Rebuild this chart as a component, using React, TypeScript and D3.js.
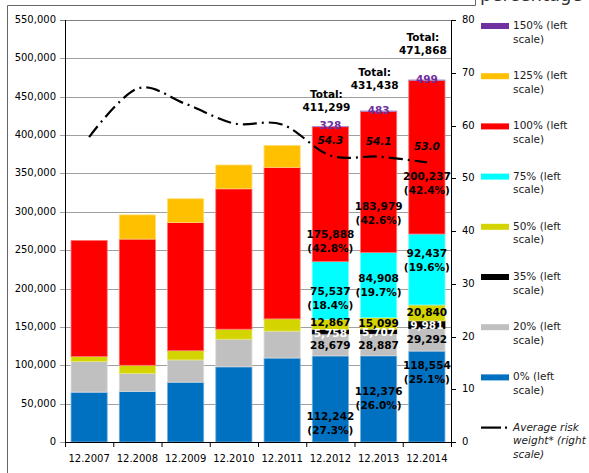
import React from "react";
import * as d3 from "d3";

const categories = ["12.2007", "12.2008", "12.2009", "12.2010", "12.2011", "12.2012", "12.2013", "12.2014"];
const s0 = [65000, 66000, 78000, 98000, 109500, 112242, 112376, 118554];
const s20 = [40000, 23500, 29000, 36000, 35000, 28679, 28887, 29292];
const s35 = [0, 0, 0, 0, 0, 5758, 5707, 9981];
const s50 = [6500, 10500, 12000, 13000, 16000, 12867, 15099, 20840];
const s75 = [0, 0, 0, 0, 0, 75537, 84908, 92437];
const s100 = [151200, 164500, 167000, 183000, 197500, 175888, 183979, 200237];
const s125 = [0, 31500, 31000, 31000, 28500, 0, 0, 0];
const s150 = [0, 0, 0, 0, 0, 328, 483, 499];
const avgRisk = [57.8, 67.0, 64.1, 60.4, 60.2, 54.3, 54.1, 53.0];
const totals = [0, 0, 0, 0, 0, 411299, 431438, 471868];
const labeled = [false, false, false, false, false, true, true, true];
const leftTicks = [0, 50000, 100000, 150000, 200000, 250000, 300000, 350000, 400000, 450000, 500000, 550000];
const rightTicks = [0, 10, 20, 30, 40, 50, 60, 70, 80];

const seriesKeys = ["0%", "20%", "35%", "50%", "75%", "100%", "125%", "150%"];
const seriesValues = [s0, s20, s35, s50, s75, s100, s125, s150];
const seriesColors = ["#0070C0", "#C0C0C0", "#000000", "#D4D400", "#00FFFF", "#FF0000", "#FFC000", "#7030A0"];
const legendOrder = ["150%", "125%", "100%", "75%", "50%", "35%", "20%", "0%"];

// layout nudges (px) for hand-placed labels in the original (2012, 2013, 2014)
const labelNudge: Record<string, number[]> = {
  "0%": [25, 0, -24],
  "20%": [1, 1, 0],
  "35%": [2, 2, 1],
  "50%": [-2, 1, 0],
  "75%": [8, 1, -8],
  "100%": [48, 32, 27],
};
const totalNudge = [0, -7, -11];

const W = 589, H = 473;
const M = { left: 65, right: 451, top: 20, bottom: 442 };
const FONT = "'DejaVu Sans', Verdana, sans-serif";

export default function App() {
  const rows = categories.map((c, i) => {
    const r: any = { cat: c };
    seriesKeys.forEach((k, j) => (r[k] = seriesValues[j][i]));
    return r;
  });
  const stacked = d3.stack<any>().keys(seriesKeys)(rows);

  const x = d3.scaleBand().domain(categories).range([M.left, M.right]).paddingInner(0.25).paddingOuter(0.125);
  const y = d3.scaleLinear().domain([0, 550000]).range([M.bottom, M.top]);
  const yr = d3.scaleLinear().domain([0, 80]).range([M.bottom, M.top]);
  const step = x.step();
  const cx = (c: string) => (x(c) as number) + x.bandwidth() / 2;

  const line = d3
    .line<number>()
    .x((_, i) => cx(categories[i]))
    .y((d) => yr(d))
    .curve(d3.curveCardinal.tension(0));

  const fmt = d3.format(",");
  const labels: React.ReactNode[] = [];
  let li = 0;
  categories.forEach((c, i) => {
    if (!labeled[i]) return;
    const k = li++;
    const total = totals[i];
    seriesKeys.forEach((key, j) => {
      const nudge = labelNudge[key];
      if (!nudge) return;
      const seg = stacked[j][i];
      const v = seriesValues[j][i];
      const mid = (y(seg[0]) + y(seg[1])) / 2 + nudge[k];
      const color = key === "35%" ? "#fff" : "#000";
      const two = key === "0%" || key === "75%" || key === "100%";
      const pct = "(" + ((v / total) * 100).toFixed(1) + "%)";
      if (two) {
        labels.push(
          <text key={`l${i}${j}a`} x={cx(c)} y={mid - 7} fill={color} textAnchor="middle" dominantBaseline="middle" fontWeight="bold" fontSize={10.5} fontFamily={FONT}>{fmt(v)}</text>,
          <text key={`l${i}${j}b`} x={cx(c)} y={mid + 7} fill={color} textAnchor="middle" dominantBaseline="middle" fontWeight="bold" fontSize={10.5} fontFamily={FONT}>{pct}</text>
        );
      } else {
        labels.push(
          <text key={`l${i}${j}`} x={cx(c)} y={mid} fill={color} textAnchor="middle" dominantBaseline="middle" fontWeight="bold" fontSize={10.5} fontFamily={FONT}>{fmt(v)}</text>
        );
      }
    });
    const top = y(stacked[7][i][1]);
    labels.push(
      <text key={`p${i}`} x={cx(c)} y={top} fill="#7030A0" textAnchor="middle" dominantBaseline="middle" fontWeight="bold" fontSize={10.5} fontFamily={FONT}>{s150[i]}</text>,
      <text key={`t${i}a`} x={cx(c) - 4} y={top - 31 + totalNudge[k]} fill="#000" textAnchor="middle" dominantBaseline="middle" fontWeight="bold" fontSize={10.5} fontFamily={FONT}>Total:</text>,
      <text key={`t${i}b`} x={cx(c) - 4} y={top - 18 + totalNudge[k]} fill="#000" textAnchor="middle" dominantBaseline="middle" fontWeight="bold" fontSize={10.5} fontFamily={FONT}>{fmt(total)}</text>,
      <text key={`a${i}`} x={cx(c)} y={yr(avgRisk[i]) - 15} fill="#000" textAnchor="middle" dominantBaseline="middle" fontWeight="bold" fontStyle="italic" fontSize={10.5} fontFamily={FONT}>{avgRisk[i].toFixed(1)}</text>
    );
  });

  const legendY0 = 26;
  const legendStep = 50.2;

  return (
    <svg width={W} height={H} style={{ position: "absolute", left: 0, top: 0, background: "#fff" }} fontFamily={FONT}>
      {/* cropped title fragment and frame */}
      <text x={480} y={1} fontSize={18} fill="#333" fontFamily={FONT}>percentage</text>
      <line x1={7.5} y1={5.5} x2={475.5} y2={5.5} stroke="#666" />
      <line x1={475.5} y1={0} x2={475.5} y2={5.5} stroke="#666" />
      <line x1={7.5} y1={5.5} x2={7.5} y2={H} stroke="#666" />

      {/* gridlines */}
      {leftTicks.map((t) => (
        <line key={`g${t}`} x1={M.left - 5} x2={M.right} y1={Math.round(y(t)) + 0.5} y2={Math.round(y(t)) + 0.5} stroke={t === 550000 ? "#808080" : "#A0A0A0"} strokeWidth={1} />
      ))}
      {leftTicks.map((t) => (
        <text key={`lt${t}`} x={M.left - 9} y={y(t)} textAnchor="end" dominantBaseline="middle" fontSize={10} fill="#000">{fmt(t)}</text>
      ))}

      {/* bars */}
      {stacked.map((s, j) =>
        s.map((d, i) => {
          const h = y(d[0]) - y(d[1]);
          if (h <= 0) return null;
          return (
            <rect
              key={`b${j}-${i}`}
              x={x(categories[i])}
              y={y(d[1])}
              width={x.bandwidth()}
              height={h}
              fill={seriesColors[j]}
              stroke={j === 2 ? "#000" : d3.interpolateRgb(seriesColors[j], "#ffffff")(0.45)}
              strokeWidth={0.8}
            />
          );
        })
      )}

      {/* axes */}
      <line x1={M.left + 0.5} x2={M.left + 0.5} y1={M.top} y2={M.bottom} stroke="#000" />
      <line x1={M.right + 0.5} x2={M.right + 0.5} y1={M.top} y2={M.bottom} stroke="#000" />
      <line x1={M.left} x2={M.right + 1} y1={M.bottom + 0.5} y2={M.bottom + 0.5} stroke="#000" />
      {categories.map((c, i) => (
        <line key={`xt${i}`} x1={M.left + 0.5 + i * step} x2={M.left + 0.5 + i * step} y1={M.bottom} y2={M.bottom + 5} stroke="#000" />
      ))}
      <line x1={M.right + 0.5} x2={M.right + 0.5} y1={M.bottom} y2={M.bottom + 5} stroke="#000" />
      {categories.map((c) => (
        <text key={`xl${c}`} x={cx(c)} y={459} textAnchor="middle" dominantBaseline="middle" fontSize={10} fill="#000">{c}</text>
      ))}
      {rightTicks.map((t) => (
        <g key={`rt${t}`}>
          <line x1={M.right} x2={M.right + 5} y1={Math.round(yr(t)) + 0.5} y2={Math.round(yr(t)) + 0.5} stroke="#000" />
          <text x={M.right + 11} y={yr(t)} dominantBaseline="middle" fontSize={10} fill="#000">{t}</text>
        </g>
      ))}

      {/* average risk weight line */}
      <path d={line(avgRisk) as string} fill="none" stroke="#000" strokeWidth={2.2} strokeDasharray="14,5,2,5" />

      {labels}

      {/* legend */}
      {legendOrder.map((k, i) => {
        const j = seriesKeys.indexOf(k);
        const ly = legendY0 + i * legendStep;
        return (
          <g key={`lg${k}`}>
            <rect x={481} y={ly - 3} width={28} height={6} fill={seriesColors[j]} />
            <text x={513} y={ly} dominantBaseline="middle" fontSize={10.5} fill="#222">{`${k} (left`}</text>
            <text x={513} y={ly + 13.5} dominantBaseline="middle" fontSize={10.5} fill="#222">scale)</text>
          </g>
        );
      })}
      {(() => {
        const ly = legendY0 + 8 * legendStep;
        return (
          <g>
            <line x1={481} x2={501} y1={ly} y2={ly} stroke="#000" strokeWidth={2.2} />
            <line x1={505} x2={507} y1={ly} y2={ly} stroke="#000" strokeWidth={2.2} />
            <text x={513} y={ly} dominantBaseline="middle" fontSize={10.5} fontStyle="italic" fill="#222">Average risk</text>
            <text x={513} y={ly + 13.5} dominantBaseline="middle" fontSize={10.5} fontStyle="italic" fill="#222">weight* (right</text>
            <text x={513} y={ly + 27} dominantBaseline="middle" fontSize={10.5} fontStyle="italic" fill="#222">scale)</text>
          </g>
        );
      })()}
    </svg>
  );
}
